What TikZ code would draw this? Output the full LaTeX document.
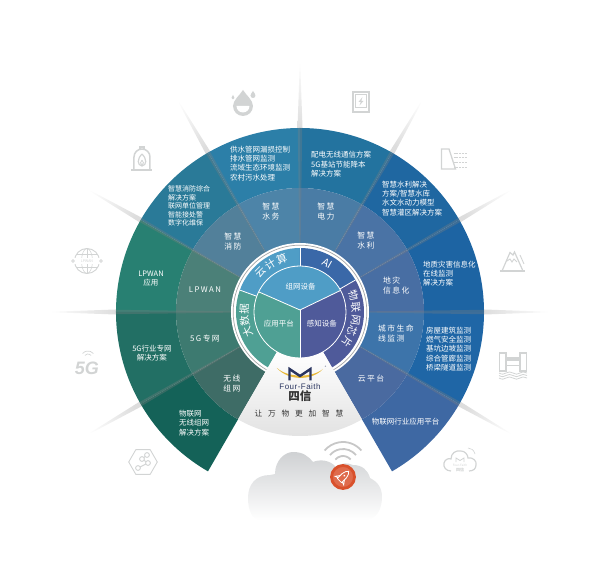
\documentclass[tikz,border=0pt]{standalone}
\usepackage{fontspec}
\setmainfont{Noto Sans CJK SC}
\newfontfamily\cjkwide[LetterSpace=18]{Noto Sans CJK SC}
\newfontfamily\sloganfont[LetterSpace=75]{Noto Sans CJK SC}
\newfontfamily\latinfont[LetterSpace=6]{Liberation Sans}
\newfontfamily\iconfont{Liberation Sans}
\definecolor{outerA}{HTML}{3E68A3}
\definecolor{outerB}{HTML}{1F66A6}
\definecolor{outerC}{HTML}{1D64A3}
\definecolor{outerD}{HTML}{1F67A1}
\definecolor{outerE}{HTML}{23739F}
\definecolor{outerF}{HTML}{2C7FA8}
\definecolor{outerG}{HTML}{2A7A98}
\definecolor{outerH}{HTML}{288072}
\definecolor{outerI}{HTML}{226F64}
\definecolor{outerJ}{HTML}{146258}
\definecolor{ringA}{HTML}{4A6AA0}
\definecolor{ringB}{HTML}{3D74AA}
\definecolor{ringC}{HTML}{486EA3}
\definecolor{ringD}{HTML}{4A73A5}
\definecolor{ringE}{HTML}{4A7CA5}
\definecolor{ringF}{HTML}{4D84A8}
\definecolor{ringG}{HTML}{52809A}
\definecolor{ringH}{HTML}{4B8078}
\definecolor{ringI}{HTML}{3D7A70}
\definecolor{ringJ}{HTML}{3E6C66}
\definecolor{hubsky}{HTML}{4F9DC6}
\definecolor{hubblue}{HTML}{3A68A8}
\definecolor{hubviolet}{HTML}{4F5A9A}
\definecolor{hubteal}{HTML}{4FA094}
\definecolor{iconcol}{HTML}{D2D4D4}
\definecolor{navy}{HTML}{2A3560}
\definecolor{swoosh}{HTML}{E8B93A}
\definecolor{rocketred}{HTML}{D9512C}
\definecolor{cloudgray}{HTML}{CFD1D3}
\newcommand{\ringsector}[5]{\fill[#5] (#1:#3pt) arc[start angle=#1,end angle=#2,radius=#3pt] -- (#2:#4pt) arc[start angle=#2,end angle=#1,radius=#4pt] -- cycle;}
\tikzset{
  listlabel/.style={text=white,inner sep=0,align=left,anchor=west,font=\fontsize{7.5}{9.3}\selectfont},
  firelabel/.style={listlabel,font=\fontsize{7}{8.5}\selectfont},
  midlabel/.style={listlabel,anchor=center,align=center},
  ringlabel/.style={text=white,inner sep=0,align=center,font=\cjkwide\fontsize{7.8}{10}\selectfont},
  ringleft/.style={ringlabel,align=left,anchor=west},
  hubchar/.style={text=white,inner sep=0,font=\fontsize{10.5}{11}\selectfont},
  hublabel/.style={text=white,inner sep=0,font=\fontsize{7.5}{9}\selectfont},
  iconline/.style={draw=iconcol,line width=1.2pt},
  iconfill/.style={fill=iconcol}
}
\begin{document}
\begin{tikzpicture}[x=1pt,y=1pt]
\useasboundingbox (-300,-258) rectangle (300,312);
% rays behind the wheel
\foreach \ang in {-30,0,...,210}{
  \pgfmathsetmacro{\shadeang}{\ang-90}
  \begin{scope}[rotate=\ang]
    \shade[top color=white,bottom color=gray!27,shading angle=\shadeang] (182,-2.6) -- (254,0) -- (182,2.6) -- cycle;
  \end{scope}
}
% outer and middle sectors
\foreach \a/\outercol/\ringcol in {-60/outerA/ringA,-30/outerB/ringB,0/outerC/ringC,30/outerD/ringD,60/outerE/ringE,90/outerF/ringF,120/outerG/ringG,150/outerH/ringH,180/outerI/ringI,210/outerJ/ringJ}{
  \pgfmathtruncatemacro{\b}{\a+30}
  \ringsector{\a}{\b}{184}{124}{\outercol}
  \ringsector{\a}{\b}{124}{60}{\ringcol}
}
% dividers
\foreach \ang in {-30,0,...,210}{
  \begin{scope}[rotate=\ang]
    \fill[gray,opacity=.32] (66,-.6) -- (184,-2.2) -- (184,2.2) -- (66,.6) -- cycle;
  \end{scope}
}
% hub
\fill[white] (0,0) circle[radius=69pt];
\draw[gray!70,line width=.7pt] (-60:66.8pt) arc[start angle=-60,end angle=240,radius=66.8pt];
\ringsector{160}{240}{64}{46}{hubteal}
\ringsector{90}{160}{64}{46}{hubsky}
\ringsector{30}{90}{64}{46}{hubblue}
\ringsector{-60}{30}{64}{46}{hubviolet}
\draw[white,line width=.8pt] (160:46pt) -- (160:64pt);
\draw[white,line width=.8pt] (90:46pt) -- (90:64pt);
\draw[white,line width=.8pt] (30:46pt) -- (30:64pt);
\fill[hubsky] (0,2) -- (154:46pt) arc[start angle=154,end angle=28,radius=46pt] -- cycle;
\fill[hubviolet] (0,2) -- (28:46pt) arc[start angle=28,end angle=-90,radius=46pt] -- cycle;
\fill[hubteal] (0,2) -- (-90:46pt) arc[start angle=-90,end angle=-206,radius=46pt] -- cycle;
\draw[white,line width=.8pt] (0,0) circle[radius=46pt];
\draw[white,line width=.8pt] (154:46pt) -- (0,2) -- (28:46pt);
\draw[white,line width=.8pt] (0,2) -- (-90:46pt);
% logo wedge
\shade[top color=white,middle color=white,bottom color=black!12] (240:46pt) arc[start angle=240,end angle=300,radius=46pt] -- (300:124pt) arc[start angle=300,end angle=240,radius=124pt] -- cycle;
\fill[swoosh] (-23,-56) .. controls (-12,-66) and (12,-66) .. (23,-57) .. controls (12,-69) and (-12,-69) .. cycle;
\draw[navy,line width=2.4pt,line join=miter] (-10.5,-68.5) -- (-10.5,-57) -- (0,-64) -- (10.5,-57) -- (10.5,-68.5);
\node[inner sep=0,text=navy,font=\fontsize{3}{3}\selectfont] (regmark) at (25.7,-55) {®};
\node[inner sep=0,text=navy,font=\latinfont\fontsize{8}{9}\selectfont] (brandname) at (0,-75) {Four-Faith};
\node[inner sep=0,text=black!80,font=\bfseries\fontsize{11.5}{12}\selectfont] (brandcjk) at (0,-84.5) {四信};
\node[inner sep=0,text=black!80,font=\sloganfont\fontsize{7.7}{9}\selectfont] (slogan) at (-1,-102) {让万物更加智慧};
% cloud
\shade[top color=cloudgray,middle color=black!6,bottom color=white] (-40,-208) .. controls (-48,-208) and (-52,-198) .. (-52,-186) .. controls (-52,-172) and (-44,-163) .. (-30,-163) -- (-25,-162) .. controls (-25,-148) and (-15,-140) .. (-7,-140) .. controls (3,-140) and (8,-144) .. (13,-150) .. controls (20,-147) and (30,-148) .. (36,-155) .. controls (42,-150) and (48,-151) .. (53,-153) .. controls (62,-153) and (68,-158) .. (70,-166) .. controls (78,-170) and (82,-176) .. (82,-185) .. controls (82,-195) and (78,-208) .. (65,-208) -- cycle;
\foreach \rad in {24,17,10}{
  \draw[black!22,line width=1.8pt] (43,-154) ++(40:\rad pt) arc[start angle=40,end angle=140,radius=\rad pt];
}
\fill[rocketred!85!white] (43,-165) circle[radius=11.5pt];
\draw[rocketred,line width=2.8pt] (43,-165) circle[radius=11.5pt];
\begin{scope}[shift={(43,-165)},rotate=-45]
  \draw[white,line width=.8pt,line join=round] (-3,-5) -- (-3,2) .. controls (-3,5) and (-1,7) .. (0,8) .. controls (1,7) and (3,5) .. (3,2) -- (3,-5) -- cycle;
  \draw[white,line width=.8pt] (-3,-1) -- (-6,-5) -- (-3,-4);
  \draw[white,line width=.8pt] (3,-1) -- (6,-5) -- (3,-4);
  \fill[white] (0,2) circle[radius=1.1pt];
\end{scope}
% texts of the outer band
\node[listlabel] (waterlist) at (-70,148.7) {供水管网漏损控制\\排水管网监测\\流域生态环境监测\\农村污水处理};
\node[firelabel] (firelist) at (-132,105.8) {智慧消防综合\\解决方案\\联网单位管理\\智能接处警\\数字化维保};
\node[listlabel] (powerlist) at (11,147.7) {配电无线通信方案\\5G基站节能降本\\解决方案};
\node[listlabel] (hydrolist) at (82,113.6) {智慧水利解决\\方案/智慧水库\\水文水动力模型\\智慧灌区解决方案};
\node[listlabel] (geolist) at (123,38.5) {地质灾害信息化\\在线监测\\解决方案};
\node[listlabel] (citylist) at (126,-37) {房屋建筑监测\\燃气安全监测\\基坑边坡监测\\综合管廊监测\\桥梁隧道监测};
\node[midlabel] (platformlist) at (105.7,-109.7) {物联网行业应用平台};
\node[midlabel] (lpwanlist) at (-149,33.5) {LPWAN\\应用};
\node[midlabel] (fivelist) at (-148,-41.3) {5G行业专网\\解决方案};
\node[listlabel] (iotlist) at (-121,-111) {物联网\\无线组网\\解决方案};
% texts of the middle band
\node[ringlabel] (waterring) at (-29,100) {智慧\\水务};
\node[ringlabel] (firering) at (-67,70.5) {智慧\\消防};
\node[ringlabel] (powerring) at (26,100) {智慧\\电力};
\node[ringlabel] (hydroring) at (66,71) {智慧\\水利};
\node[ringleft] (georing) at (83,26) {地灾\\信息化};
\node[ringleft] (cityring) at (78,-21) {城市生命\\线监测};
\node[ringlabel] (cloudring) at (71,-67) {云平台};
\node[ringlabel] (lpwanring) at (-95,22) {LPWAN};
\node[ringlabel] (fivering) at (-95,-27) {5G专网};
\node[ringlabel] (wirelessring) at (-68,-72) {无线\\组网};
% hub texts
\foreach \ch/\ang [count=\i] in {云/135,计/122,算/109,物/17,联/5,网/-8,芯/-20,片/-32}{
  \pgfmathsetmacro{\rot}{\ang-90}
  \node[hubchar,rotate=\rot] (hubchar\i) at (\ang:56pt) {\ch};
}
\foreach \ch/\ang [count=\i] in {大/201,数/189,据/177}{
  \pgfmathsetmacro{\rot}{\ang-90}
  \node[hubchar,rotate=\rot] (bigdata\i) at (\ang:56pt) {\ch};
}
\node[hubchar,rotate=-29] (ailabel) at (61:56pt) {AI};
\node[hublabel] (netlabel) at (.7,25) {组网设备};
\node[hublabel] (applabel) at (-21,-12) {应用平台};
\node[hublabel] (senselabel) at (22,-12) {感知设备};
% icon water drop
\begin{scope}[shift={(-57,209)}]
  \fill[iconfill] (0,13) .. controls (3,8) and (10,3) .. (10,-3) arc[start angle=0,end angle=-180,radius=10pt] .. controls (-10,3) and (-3,8) .. cycle;
  \fill[white] (-6.5,-3) arc[start angle=180,end angle=360,radius=6.5pt] -- cycle;
  \fill[iconfill] (10,12) .. controls (11,10) and (12.5,9) .. (12.5,7.5) arc[start angle=0,end angle=-180,radius=2.5pt] .. controls (7.5,9) and (9,10) .. cycle;
  \fill[iconfill] (-10,8) .. controls (-9.5,7) and (-8.5,6) .. (-8.5,5) arc[start angle=0,end angle=-180,radius=1.5pt] .. controls (-11.5,6) and (-10.5,7) .. cycle;
\end{scope}
% icon fire house
\begin{scope}[shift={(-158,152)}]
  \draw[iconline,line width=1.8pt] (-10.5,-10) -- (10.5,-10);
  \draw[iconline,line width=1.5pt] (-8,-10) -- (-8,3) arc[start angle=180,end angle=0,radius=8pt] -- (8,-10);
  \draw[iconline] (-2,11) -- (-2,13) -- (2,13) -- (2,11);
  \draw[iconline] (0,6) .. controls (5,1) and (5,-5) .. (0,-6) .. controls (-5,-5) and (-5,1) .. (0,6);
  \draw[iconline,line width=.8pt] (0,0) .. controls (2,-2) and (2,-4) .. (0,-5) .. controls (-2,-4) and (-2,-2) .. (0,0);
\end{scope}
% icon globe
\begin{scope}[shift={(-213,51)}]
  \draw[iconline,line width=.9pt] (0,0) circle[radius=12.5pt];
  \draw[iconline,line width=.6pt] (0,0) ellipse[x radius=5.5pt,y radius=12.5pt];
  \draw[iconline,line width=.6pt] (0,-12.5) -- (0,12.5);
  \draw[iconline,line width=.6pt] (-10.5,6.5) -- (10.5,6.5);
  \draw[iconline,line width=.6pt] (-10.5,-6.5) -- (10.5,-6.5);
  \fill[white] (-15,-3) rectangle (15,3);
  \node[inner sep=0,text=iconcol,font=\fontsize{3.6}{4}\selectfont] (globelabel) at (0,0) {LPWAN};
  \draw[iconline,line width=.7pt] (-14,0) circle[radius=1.4pt];
  \draw[iconline,line width=.7pt] (14,0) circle[radius=1.4pt];
\end{scope}
% icon 5G
\begin{scope}[shift={(-213,-55)}]
  \node[inner sep=0,text=iconcol,font=\iconfont\bfseries\itshape\fontsize{18}{18}\selectfont] (fivegicon) at (0,-1) {5G};
  \draw[iconline,line width=.7pt] (1,9) ++(40:4pt) arc[start angle=40,end angle=140,radius=4pt];
  \draw[iconline,line width=.7pt] (1,9) ++(40:7pt) arc[start angle=40,end angle=140,radius=7pt];
\end{scope}
% icon hexagon
\begin{scope}[shift={(-157,-150)}]
  \draw[iconline,line width=.9pt] (0:14.3pt) -- (60:14.3pt) -- (120:14.3pt) -- (180:14.3pt) -- (240:14.3pt) -- (300:14.3pt) -- cycle;
  \draw[iconline,line width=.9pt] (-1,3) -- (5,-1) -- (-5,-6);
  \draw[iconline,line width=.9pt] (-1,3) -- (4,7);
  \foreach \x/\y in {-1/3,5/-1,-5/-6,4/7}{
    \draw[iconline,line width=.9pt,fill=white] (\x,\y) circle[radius=2.4pt];
  }
\end{scope}
% icon lightning book
\begin{scope}[shift={(61,210)}]
  \draw[iconline,line width=1.4pt] (-8,-10) rectangle (8,10);
  \draw[iconline,line width=.7pt] (-5.5,-5) rectangle (5.5,7.5);
  \fill[iconfill] (1.5,5) -- (-2.5,0) -- (-.3,0) -- (-1.5,-3.5) -- (2.5,1) -- (.3,1) -- cycle;
\end{scope}
% icon dam
\begin{scope}[shift={(154,153)}]
  \draw[iconline,line width=1.3pt] (-12.5,-10) -- (-12.5,10) -- (-5,10) -- (1.5,-10) -- cycle;
  \foreach \y in {5,1,-4,-9}{
    \draw[iconline,line width=1pt,dash pattern=on 2pt off .8pt] (-.5,\y) -- (13,\y);
  }
\end{scope}
% icon mountain
\begin{scope}[shift={(212,50)}]
  \draw[iconline,line width=1.6pt] (-12.5,-9) -- (12.5,-9);
  \draw[iconline] (-10,-9) -- (-2,9.5) -- (1,7) -- (2.5,10) -- (11,-9);
  \draw[iconline,line width=.9pt] (-5,1) -- (-2,3) -- (0,0) -- (2,3) -- (5,0);
  \draw[iconline,line width=.9pt] (8,7) -- (12,-2);
\end{scope}
% icon bridge
\begin{scope}[shift={(213,-53)}]
  \draw[iconline] (-13.5,-6) rectangle (-7,12);
  \draw[iconline] (7,-6) rectangle (13.5,12);
  \fill[iconfill] (-7,4) rectangle (7,8);
  \draw[iconline,line width=.7pt] (-7,0) -- (7,0);
  \foreach \y in {-8,-10.5,-13}{
    \draw[iconline,line width=.8pt] (-14,\y) .. controls (-11,\y-1.6) and (-9,\y-1.6) .. (-7,\y) .. controls (-5,\y+1.4) and (-2,\y+1.4) .. (0,\y) .. controls (2,\y-1.6) and (5,\y-1.6) .. (7,\y) .. controls (9,\y+1.4) and (11,\y+1.4) .. (14,\y);
  }
\end{scope}
% icon small cloud
\begin{scope}[shift={(160,-148)}]
  \draw[iconline] (-9,-11) .. controls (-14,-11) and (-17,-7) .. (-16,-3) .. controls (-15,1) and (-11,2) .. (-9,1) .. controls (-9,7) and (-4,10) .. (1,9) .. controls (5,9) and (8,5) .. (8,2) .. controls (13,3) and (17,-1) .. (16,-5) .. controls (16,-9) and (13,-11) .. (9,-11);
  \draw[iconline,line width=.8pt] (-4,-2) -- (-4,2) -- (0,-.5) -- (4,2) -- (4,-2);
  \node[inner sep=0,text=iconcol,font=\fontsize{3}{3}\selectfont] (cloudiconname) at (0,-5) {Four-Faith};
  \node[inner sep=0,text=iconcol,font=\bfseries\fontsize{4}{4}\selectfont] (cloudiconcjk) at (0,-10) {四信};
  \draw[iconline,line width=.6pt] (8,12) .. controls (11,12) and (14,10) .. (15,6);
\end{scope}
\end{tikzpicture}
\end{document}
